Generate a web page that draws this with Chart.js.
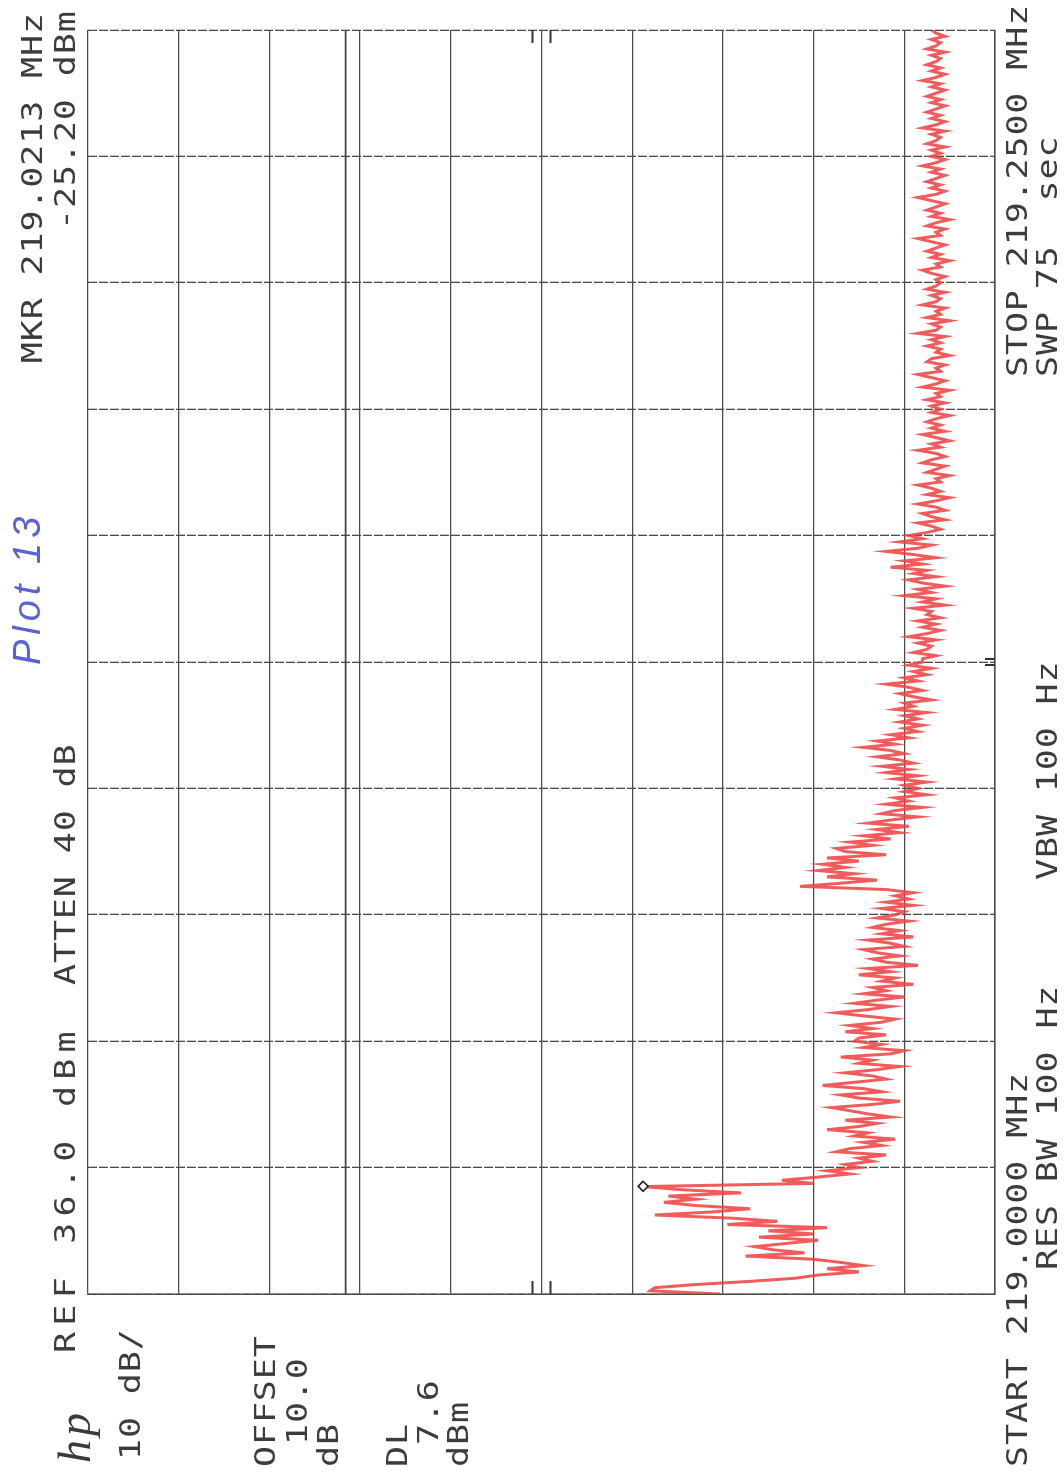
<!DOCTYPE html>
<html>
<head>
<meta charset="utf-8">
<script src="https://cdn.jsdelivr.net/npm/chart.js@4.4.1/dist/chart.umd.min.js"></script>
<style>
  html, body { margin:0; padding:0; background:#fff; }
  body { width:1064px; height:1473px; overflow:hidden; position:relative; }
  #rot { position:absolute; left:0; top:0; width:1473px; height:1064px;
         transform-origin:0 0; transform:translate(0,1473px) rotate(-90deg); }
  #c { position:absolute; left:0; top:0; }
  .t { position:absolute; font-family:'DejaVu Sans Mono', monospace; font-size:28px;
       letter-spacing:0.7px; line-height:1; white-space:pre; color:#3c3c3c;
       transform:scaleX(1.25); transform-origin:0 0; }
  .t.r { transform-origin:100% 0; }
  .t.wide { letter-spacing:5px; }
  .hand { position:absolute; font-family:'Liberation Sans', sans-serif; font-style:italic;
       font-size:38px; letter-spacing:5px; line-height:1; white-space:pre; color:#5a63d6; }
  .logo { position:absolute; font-family:'Liberation Serif', serif; font-style:italic;
       font-size:46px; letter-spacing:4px; line-height:1; color:#3a3a3a; }
</style>
</head>
<body>
<div id="rot">
  <canvas id="c" width="1473" height="1064"></canvas>
  <div class="logo" style="left:10px; top:52px;">hp</div>
  <div class="t wide" style="left:120px; top:52px;">REF 36.0 dBm</div>
  <div class="t" style="left:488px; top:52px;">ATTEN 40 dB</div>
  <div class="t r" style="right:12px; top:19px;">MKR 219.0213 MHz</div>
  <div class="t r" style="right:10px; top:52px;">-25.20 dBm</div>
  <div class="hand" style="left:808px; top:8px;">Plot 13</div>
  <div class="t" style="left:13px; top:117px;">10 dB/</div>
  <div class="t" style="left:6px; top:252px;">OFFSET</div>
  <div class="t" style="left:6px; top:284px;"> 10.0</div>
  <div class="t" style="left:6px; top:315px;">dB</div>
  <div class="t" style="left:6px; top:384px;">DL</div>
  <div class="t" style="left:6px; top:415px;"> 7.6</div>
  <div class="t" style="left:6px; top:445px;">dBm</div>
  <div class="t" style="left:6px; top:1004px;">START 219.0000 MHz</div>
  <div class="t" style="left:203px; top:1034px;">RES BW 100 Hz</div>
  <div class="t" style="left:593px; top:1034px;">VBW 100 Hz</div>
  <div class="t" style="left:1096px; top:1004px;">STOP 219.2500 MHz</div>
  <div class="t" style="left:1096px; top:1034px;">SWP 75  sec</div>
</div>
<script>
const startFreq = 219.0;
const stopFreq = 219.25;
const freqTicks = [219.000, 219.025, 219.050, 219.075, 219.100, 219.125, 219.150, 219.175, 219.200, 219.225, 219.250];
const ampTicks = [36, 26, 16, 6, -4, -14, -24, -34, -44, -54, -64];
const markerFreq = 219.0213;
const markerDbm = -25.20;
const displayLineDbm = 7.6;

// 401 sweep points, one row per graticule division (first row includes the start point)
const traceDbm = [
  -33.7, -26.0, -26.5, -31.0, -37.0, -42.0, -44.5, -49.0, -45.5, -49.5, -47.0, -44.0, -36.5, -43.0, -39.5, -37.5, -41.0, -44.5, -38.0, -44.0,
  -39.0, -45.5, -34.5, -40.0, -35.0, -26.5, -33.0, -37.0, -31.0, -27.5, -31.0, -28.0, -36.0, -29.5, -25.2, -44.0, -40.5, -44.5, -48.0, -45.5, -49.0,
  -47.5, -50.5, -49.0, -52.0, -46.5, -48.0, -51.5, -49.5, -53.0, -48.5, -50.0, -45.5, -49.0, -51.0, -47.5, -52.5, -50.0, -48.0, -46.0, -50.5,
  -53.5, -49.0, -47.0, -51.5, -49.5, -45.0, -48.5, -52.0, -50.5, -47.5, -51.0, -53.5, -49.0, -50.5, -47.0, -52.5, -54.0, -49.5, -51.5, -48.5,
  -49.0, -52.0, -47.5, -50.5, -48.0, -51.5, -53.0, -49.5, -46.5, -50.0, -52.5, -48.5, -51.0, -54.0, -49.5, -52.0, -50.5, -55.0, -51.5, -53.0,
  -49.0, -52.5, -50.0, -55.5, -52.0, -50.5, -53.5, -51.0, -49.5, -54.0, -52.5, -50.0, -55.0, -51.5, -53.5, -50.5, -52.0, -54.5, -51.0, -53.0,
  -54.0, -51.5, -55.0, -52.0, -54.5, -53.0, -55.0, -52.0, -42.5, -47.0, -51.0, -45.5, -48.5, -44.5, -47.5, -45.0, -49.0, -45.5, -52.0, -47.5,
  -46.5, -50.5, -48.0, -52.5, -49.5, -53.5, -51.0, -54.5, -50.0, -52.5, -55.5, -51.5, -53.0, -56.0, -52.0, -54.5, -53.0, -56.5, -54.0, -55.5,
  -54.0, -56.5, -53.0, -55.5, -52.0, -54.5, -51.5, -55.0, -53.5, -51.0, -54.0, -52.5, -49.5, -53.0, -51.0, -54.5, -52.5, -55.5, -54.0, -56.0,
  -53.5, -55.5, -54.0, -56.5, -53.0, -55.0, -54.0, -57.0, -55.0, -53.5, -56.0, -54.5, -52.0, -55.5, -54.0, -56.5, -55.0, -57.0, -54.5, -56.0,
  -56.0, -57.5, -55.0, -56.5, -57.0, -55.5, -57.5, -54.5, -56.5, -58.0, -56.0, -57.5, -55.5, -58.0, -56.5, -57.0, -55.0, -58.5, -56.0, -57.5,
  -54.0, -57.0, -55.5, -58.5, -56.0, -54.5, -57.5, -55.0, -56.5, -52.5, -56.0, -54.0, -57.5, -55.0, -52.0, -55.5, -57.0, -53.5, -56.0, -54.5,
  -56.5, -58.0, -57.0, -55.5, -58.5, -57.0, -56.0, -58.5, -57.5, -55.5, -57.5, -59.0, -56.5, -58.0, -57.0, -55.5, -58.0, -57.5, -59.0, -56.5,
  -57.5, -58.5, -56.0, -57.0, -58.5, -57.5, -55.5, -58.0, -57.0, -59.0, -57.5, -56.0, -58.5, -57.0, -58.0, -56.5, -57.5, -59.0, -57.0, -58.0,
  -57.0, -58.5, -56.5, -58.0, -57.5, -59.0, -56.0, -57.5, -58.5, -57.0, -55.5, -58.0, -57.5, -58.5, -56.5, -57.0, -59.0, -57.5, -58.0, -56.5,
  -58.0, -57.0, -58.5, -55.5, -57.5, -58.0, -57.0, -59.0, -56.5, -58.0, -57.5, -58.5, -56.0, -57.5, -58.0, -57.0, -58.5, -56.5, -57.5, -58.0,
  -57.5, -58.5, -57.0, -56.0, -58.0, -57.5, -59.0, -57.0, -58.0, -56.5, -57.5, -58.5, -57.0, -55.5, -58.0, -57.5, -58.5, -56.5, -57.5, -59.0,
  -57.0, -58.0, -56.5, -57.5, -58.5, -57.0, -55.5, -57.5, -58.5, -57.0, -58.0, -56.5, -57.5, -58.5, -57.0, -58.0, -56.0, -57.5, -58.5, -57.0,
  -58.0, -57.0, -58.5, -56.5, -57.5, -58.0, -57.0, -58.5, -56.0, -57.5, -58.5, -57.0, -58.0, -56.5, -57.5, -58.5, -57.0, -58.0, -56.5, -57.5,
  -58.5, -57.0, -58.0, -56.0, -57.5, -58.5, -57.0, -58.0, -56.5, -57.5, -58.0, -57.0, -58.5, -56.5, -57.5, -58.0, -57.0, -58.5, -57.5, -57.0
];

const step = (stopFreq - startFreq) / (traceDbm.length - 1);
const tracePts = traceDbm.map((v, i) => ({ x: startFreq + i * step, y: v }));

const gridColor = '#4a4a4a';

const centerTicks = {
  id: 'centerTicks',
  afterDatasetsDraw(chart) {
    const { ctx, chartArea: a, scales } = chart;
    const x = scales.x, y = scales.y;
    ctx.save();
    ctx.strokeStyle = '#333';
    ctx.lineWidth = 2;
    const yc = y.getPixelForValue(ampTicks[5]);
    [yc - 9, yc + 9].forEach(py => {
      ctx.beginPath(); ctx.moveTo(a.left, py); ctx.lineTo(a.left + 13, py); ctx.stroke();
      ctx.beginPath(); ctx.moveTo(a.right, py); ctx.lineTo(a.right - 13, py); ctx.stroke();
    });
    const xc = x.getPixelForValue(freqTicks[5]);
    [xc - 3, xc + 3].forEach(px => {
      ctx.beginPath(); ctx.moveTo(px, a.bottom); ctx.lineTo(px, a.bottom - 10); ctx.stroke();
    });
    ctx.restore();
  }
};

new Chart(document.getElementById('c'), {
  type: 'scatter',
  data: {
    datasets: [
      {
        label: 'Trace',
        data: tracePts,
        showLine: true,
        borderColor: 'rgba(238,70,70,0.88)',
        borderWidth: 3,
        pointRadius: 0,
        tension: 0,
        order: 2
      },
      {
        label: 'DL',
        data: [{ x: startFreq, y: displayLineDbm }, { x: stopFreq, y: displayLineDbm }],
        showLine: true,
        borderColor: '#444',
        borderWidth: 1.6,
        pointRadius: 0,
        order: 3
      },
      {
        label: 'Marker',
        data: [{ x: markerFreq, y: markerDbm }],
        showLine: false,
        pointStyle: 'rectRot',
        pointRadius: 5,
        borderColor: '#222',
        backgroundColor: '#fff',
        borderWidth: 1.6,
        order: 1
      }
    ]
  },
  options: {
    responsive: false,
    animation: false,
    devicePixelRatio: 1,
    layout: { padding: { left: 179, right: 30, top: 88, bottom: 69 } },
    plugins: { legend: { display: false }, tooltip: { enabled: false } },
    scales: {
      x: {
        type: 'linear', min: startFreq, max: stopFreq,
        afterBuildTicks: (axis) => { axis.ticks = freqTicks.map(v => ({ value: v })); },
        ticks: { display: false },
        grid: { color: gridColor, lineWidth: 1.3, drawTicks: false },
        border: { display: true, color: gridColor, width: 1.5, dash: [9, 2] }
      },
      y: {
        type: 'linear', min: ampTicks[ampTicks.length - 1], max: ampTicks[0],
        afterBuildTicks: (axis) => { axis.ticks = ampTicks.map(v => ({ value: v })); },
        ticks: { display: false },
        grid: { color: gridColor, lineWidth: 1.3, drawTicks: false },
        border: { display: true, color: gridColor, width: 1.5 }
      }
    }
  },
  plugins: [centerTicks]
});
</script>
</body>
</html>
